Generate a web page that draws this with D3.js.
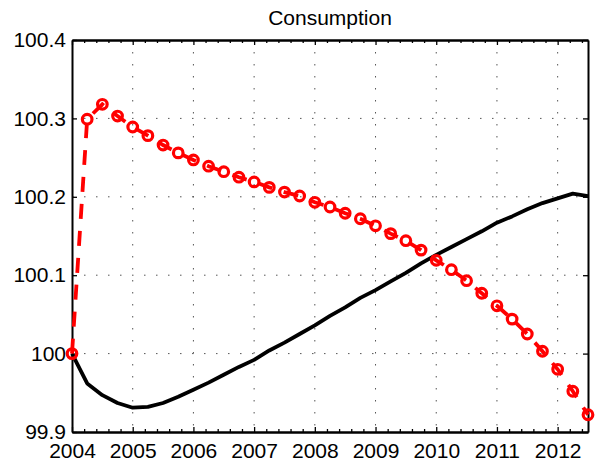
<!DOCTYPE html>
<html>
<head>
<meta charset="utf-8">
<script src="https://cdn.jsdelivr.net/npm/d3@7"></script>
<style>
  body { margin: 0; background: #fff; }
  text { font-family: "Liberation Sans", Arial, sans-serif; fill: #000; }
</style>
</head>
<body>
<div id="chart"></div>
<script>
// quarterly dates (decimal years)
var dates = [2004.00, 2004.25, 2004.50, 2004.75, 2005.00, 2005.25, 2005.50, 2005.75,
  2006.00, 2006.25, 2006.50, 2006.75, 2007.00, 2007.25, 2007.50, 2007.75,
  2008.00, 2008.25, 2008.50, 2008.75, 2009.00, 2009.25, 2009.50, 2009.75,
  2010.00, 2010.25, 2010.50, 2010.75, 2011.00, 2011.25, 2011.50, 2011.75,
  2012.00, 2012.25, 2012.50];

// solid black series
var baseline = [100.000, 99.962, 99.947, 99.937, 99.931, 99.932, 99.937, 99.945,
  99.954, 99.963, 99.973, 99.983, 99.992, 100.004, 100.014, 100.025,
  100.036, 100.048, 100.059, 100.071, 100.081, 100.092, 100.103, 100.115,
  100.126, 100.136, 100.146, 100.156, 100.167, 100.175, 100.184, 100.192,
  100.198, 100.204, 100.201];

// dashed red series with circle markers
var scenario = [100.000, 100.299, 100.318, 100.303, 100.289, 100.278, 100.266, 100.256,
  100.247, 100.239, 100.232, 100.225, 100.219, 100.212, 100.206, 100.201,
  100.193, 100.187, 100.179, 100.172, 100.163, 100.153, 100.144, 100.132,
  100.119, 100.107, 100.093, 100.077, 100.061, 100.044, 100.025, 100.003,
  99.980, 99.952, 99.922];

var xTicks = [2004, 2005, 2006, 2007, 2008, 2009, 2010, 2011, 2012];
var yTicks = [99.9, 100, 100.1, 100.2, 100.3, 100.4];
var title = "Consumption";

// dimensions
var W = 598, H = 469;
var margin = { top: 40, right: 10, bottom: 37, left: 72 },
  width = W - margin.left - margin.right,
  height = H - margin.top - margin.bottom;

var svg = d3.select("#chart").append("svg")
  .attr("width", W)
  .attr("height", H);

var g = svg.append("g")
  .attr("transform", "translate(" + margin.left + "," + margin.top + ")");

var x = d3.scaleLinear().domain([2004, 2012.5]).range([0, width]);
var y = d3.scaleLinear().domain([99.9, 100.4]).range([height, 0]);

// grid (dotted)
g.append("g").selectAll("line").data(xTicks.slice(1))
  .enter().append("line")
  .attr("x1", d => x(d)).attr("x2", d => x(d))
  .attr("y1", 0).attr("y2", height)
  .attr("stroke", "#555").attr("stroke-width", 1)
  .attr("stroke-dasharray", "1.5,10.5");
g.append("g").selectAll("line").data(yTicks.slice(1, -1))
  .enter().append("line")
  .attr("y1", d => y(d)).attr("y2", d => y(d))
  .attr("x1", 0).attr("x2", width)
  .attr("stroke", "#555").attr("stroke-width", 1)
  .attr("stroke-dasharray", "1.5,10.5");

// axes, ticks inward on all sides
var minor = d3.range(2004, 2012.5001, 0.2).filter(d => Math.abs(d - Math.round(d)) > 0.01);

g.append("g").attr("transform", "translate(0," + height + ")")
  .call(d3.axisBottom(x).tickValues(xTicks).tickFormat(d3.format("d")).tickSizeInner(-5).tickSizeOuter(0).tickPadding(11));
g.append("g")
  .call(d3.axisTop(x).tickValues(xTicks).tickFormat("").tickSizeInner(-5).tickSizeOuter(0));
g.append("g")
  .call(d3.axisLeft(y).tickValues(yTicks).tickFormat(d => d3.format("")(+d.toFixed(1))).tickSizeInner(-5).tickSizeOuter(0).tickPadding(6));
g.append("g").attr("transform", "translate(" + width + ",0)")
  .call(d3.axisRight(y).tickValues(yTicks).tickFormat("").tickSizeInner(-5).tickSizeOuter(0));

// minor x ticks
g.append("g").call(d3.axisBottom(x).tickValues(minor).tickFormat("").tickSizeInner(-3).tickSizeOuter(0))
  .attr("transform", "translate(0," + height + ")");
g.append("g").call(d3.axisTop(x).tickValues(minor).tickFormat("").tickSizeInner(-3).tickSizeOuter(0));

g.selectAll(".domain").attr("stroke", "#000").attr("stroke-width", 2);
g.selectAll(".tick line").attr("stroke", "#000").attr("stroke-width", 1.3);
g.selectAll(".tick text").style("font-size", "21px").attr("fill", "#000")
  .style("font-family", "'Liberation Sans', Arial, sans-serif");

// title
svg.append("text")
  .attr("x", margin.left + width / 2)
  .attr("y", 25)
  .attr("text-anchor", "middle")
  .style("font-size", "21px")
  .text(title);

// black line
var line = d3.line().x((d, i) => x(dates[i])).y(d => y(d));
g.append("path").datum(baseline)
  .attr("d", line)
  .attr("fill", "none")
  .attr("stroke", "#000")
  .attr("stroke-width", 3.8)
  .attr("stroke-linejoin", "round");

// red dashed line + markers
g.append("path").datum(scenario)
  .attr("d", line)
  .attr("fill", "none")
  .attr("stroke", "#ff0000")
  .attr("stroke-width", 3.8)
  .attr("stroke-dasharray", "15,12");

g.append("g").selectAll("circle").data(scenario)
  .enter().append("circle")
  .attr("cx", (d, i) => x(dates[i]))
  .attr("cy", d => y(d))
  .attr("r", 4.8)
  .attr("fill", "none")
  .attr("stroke", "#ff0000")
  .attr("stroke-width", 3.2);
</script>
</body>
</html>
